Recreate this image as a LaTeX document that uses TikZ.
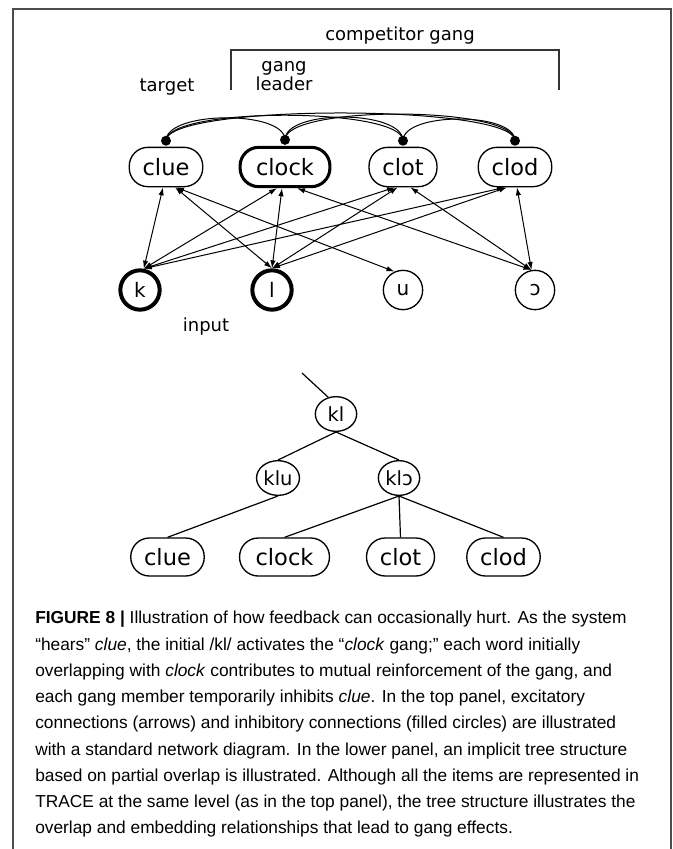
\documentclass[tikz,border=0pt]{standalone}
\usepackage{fontspec}
\setmainfont{Liberation Sans}
\newfontfamily\dejavu{DejaVu Sans}
\usetikzlibrary{arrows.meta,positioning,shapes.geometric}

\begin{document}
\begin{tikzpicture}[x=0.75pt,y=-0.75pt,
  word/.style={draw,rounded corners=14pt,minimum height=29.5pt,inner xsep=10pt,inner ysep=0pt,line width=1pt,font=\dejavu\fontsize{16.9}{20}\selectfont},
  phon/.style={draw,circle,minimum size=29.5pt,inner sep=0pt,line width=1pt,font=\dejavu\fontsize{15}{18}\selectfont},
  heavy/.style={line width=#1},heavy/.default=2.3pt,
  part/.style={draw,ellipse,minimum width=31pt,minimum height=26pt,inner sep=0.5pt,line width=1pt,font=\dejavu\fontsize{14.6}{17}\selectfont},
  inhdot/.style={circle,fill,inner sep=0pt,minimum size=7.5pt},
  inh/.style={line width=0.75pt},
  exc/.style={{Latex[length=6pt,width=4pt]}-{Latex[length=6pt,width=4pt]},line width=0.75pt},
  lbl/.style={font=\dejavu\fontsize{13.5}{14.2}\selectfont}]
  \useasboundingbox (0,0) rectangle (672,849);
  \draw[black!70,line width=1.2pt] (13,849) -- (13,9) -- (671,9) -- (671,849);

  % top panel: words, inhibition, input
  \node[lbl] (tgt) at (167,87) {target};
  \node[lbl,align=center] (lead) at (284,76) {gang\\leader};
  \node[lbl] (comp) at (400,36) {competitor gang};
  \draw[black!80,line width=1pt] (231,90) -- (231,50) -- (559,50) -- (559,90);

  \foreach \w/\x in {clue/166,clot/403,clod/515}
    \node[word] (\w) at (\x,167) {\w};
  \node[word,heavy,inner xsep=12pt] (clock) at (285,167) {clock};

  \foreach \w in {clue,clock,clot,clod}
    \node[inhdot,above=0.5pt of \w] (i\w) {};
  \foreach \a/\b/\h in {clue/clock/30,clue/clot/34,clue/clod/37,clock/clot/31,clock/clod/35,clot/clod/29}
    \draw[inh] (i\a.center) .. controls +(0,-\h) and +(0,-\h) .. (i\b.center);

  \node[phon,heavy=3pt] (k) at (140,290) {k};
  \node[phon,heavy=3pt] (l) at (272,290) {l};
  \node[phon] (u) at (403,290) {u};
  \node[phon] (o) at (535,290) {ɔ};
  \node[lbl] (inp) at (206,327) {input};

  \foreach \w/\s/\p/\e in {clue/-2.25/k/80,clue/6.75/l/90,clue/7.5/u/115,
      clock/-6/k/80,clock/-2.25/l/90,clock/9/o/100,
      clot/-6/k/80,clot/-4/l/90,clot/5.5/o/100,
      clod/-7.5/k/80,clod/-6/l/90,clod/1.5/o/100}
    \draw[exc] ([xshift=\s pt]\w.south) -- (\p.\e);

  % lower panel: overlap tree
  \coordinate (root) at (302,373);
  \node[part] (kl) at (336,414) {kl};
  \node[part] (klu) at (278,478) {klu};
  \node[part] (klo) at (399,478) {klɔ};
  \foreach \w/\x in {clue/167.5,clot/400.5,clod/503.5}
    \node[word,minimum height=28.5pt] (t\w) at (\x,557) {\w};
  \node[word,minimum height=28.5pt,inner xsep=12pt] (tclock) at (284.5,557) {clock};
  \draw[line width=0.9pt] (root) -- (kl.115)
    (kl.south) -- (klu.north) (kl.south) -- (klo.north)
    (klu.south) -- (tclue.north)
    (klo.south) -- (tclock.north) (klo.south) -- (tclot.north) (klo.south) -- (tclod.north);

  \node[anchor=north west,inner sep=0pt,align=left,font=\fontsize{13}{19.7}\selectfont] (cap) at (35,611)
    {\textbf{FIGURE 8 |} Illustration of how feedback can occasionally hurt. As the system\\
     “hears” \textit{clue}, the initial /kl/ activates the “\textit{clock} gang;” each word initially\\
     overlapping with \textit{clock} contributes to mutual reinforcement of the gang, and\\
     each gang member temporarily inhibits \textit{clue}. In the top panel, excitatory\\
     connections (arrows) and inhibitory connections (filled circles) are illustrated\\
     with a standard network diagram. In the lower panel, an implicit tree structure\\
     based on partial overlap is illustrated. Although all the items are represented in\\
     TRACE at the same level (as in the top panel), the tree structure illustrates the\\
     overlap and embedding relationships that lead to gang effects.};
\end{tikzpicture}
\end{document}
